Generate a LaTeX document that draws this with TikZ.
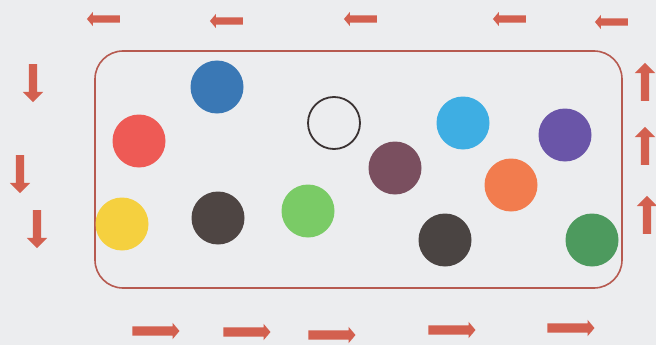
\documentclass[tikz,border=0pt]{standalone}
\usetikzlibrary{shapes.arrows}
\definecolor{bg}{HTML}{ECEDEF}
\definecolor{arr}{HTML}{D3604F}
\definecolor{boxc}{HTML}{B65A50}
\definecolor{cblue}{HTML}{3A78B5}
\definecolor{cred}{HTML}{EE5A55}
\definecolor{cyellow}{HTML}{F5D03F}
\definecolor{cbrown}{HTML}{4E4543}
\definecolor{cgreen}{HTML}{7ACB66}
\definecolor{cmauve}{HTML}{7A4F5F}
\definecolor{clblue}{HTML}{3EAEE3}
\definecolor{cpurple}{HTML}{6A55A8}
\definecolor{corange}{HTML}{F27C4E}
\definecolor{cgray}{HTML}{4A4442}
\definecolor{cdgreen}{HTML}{4D9A5E}
\definecolor{ring}{HTML}{3A3232}
\tikzset{
  dot/.style={circle, minimum size=53pt, inner sep=0pt, fill=#1},
  toparr/.style={single arrow, fill=arr, draw=none, inner sep=3.5pt, single arrow head extend=3.5pt, minimum height=33pt, single arrow tip angle=100, rotate=180},
  botarr/.style={single arrow, fill=arr, draw=none, inner sep=4.5pt, single arrow head extend=3.5pt, minimum height=47pt, single arrow tip angle=100},
  downarr/.style={single arrow, fill=arr, draw=none, inner sep=4pt, single arrow head extend=6pt, minimum height=38pt, single arrow tip angle=90, rotate=-90},
  uparr/.style={single arrow, fill=arr, draw=none, inner sep=4pt, single arrow head extend=6pt, minimum height=38pt, single arrow tip angle=90, rotate=90},
}
\begin{document}
\begin{tikzpicture}[x=1pt,y=-1pt]
\fill[bg] (0,0) rectangle (656,345);
\useasboundingbox (0,0) rectangle (656,345);
% frame
\draw[boxc, line width=1.6pt, rounded corners=28pt] (95,51) rectangle (622,288);
% circles
\node[dot=cblue] (blue) at (217,87) {};
\node[dot=cred] (red) at (139,141) {};
\node[dot=cyellow] (yellow) at (122,224) {};
\node[dot=cbrown] (brown) at (218,218) {};
\node[dot=cgreen] (green) at (308,211) {};
\node[circle, minimum size=52pt, inner sep=0pt, draw=ring, line width=1.8pt] (empty) at (334,123) {};
\node[dot=cmauve] (mauve) at (395,168) {};
\node[dot=clblue] (lblue) at (463,123) {};
\node[dot=cpurple] (purple) at (565,135) {};
\node[dot=corange] (orange) at (511,185) {};
\node[dot=cgray] (gray) at (445,240) {};
\node[dot=cdgreen] (dgreen) at (592,240) {};
% top arrows (pointing left)
\node[toparr] (t1) at (105,19) {};
\node[toparr] (t2) at (228,21) {};
\node[toparr] (t3) at (362,19) {};
\node[toparr] (t4) at (511,19) {};
\node[toparr] (t5) at (613,22) {};
% bottom arrows (pointing right)
\node[botarr] (b1) at (154,331) {};
\node[botarr] (b2) at (245,332) {};
\node[botarr] (b3) at (330,335) {};
\node[botarr] (b4) at (450,330) {};
\node[botarr] (b5) at (569,328) {};
% left arrows (pointing down)
\node[downarr] (l1) at (33,81) {};
\node[downarr] (l2) at (20,172) {};
\node[downarr] (l3) at (37,227) {};
% right arrows (pointing up)
\node[uparr] (r1) at (645,84) {};
\node[uparr] (r2) at (645,148) {};
\node[uparr] (r3) at (647,217) {};
\end{tikzpicture}
\end{document}
